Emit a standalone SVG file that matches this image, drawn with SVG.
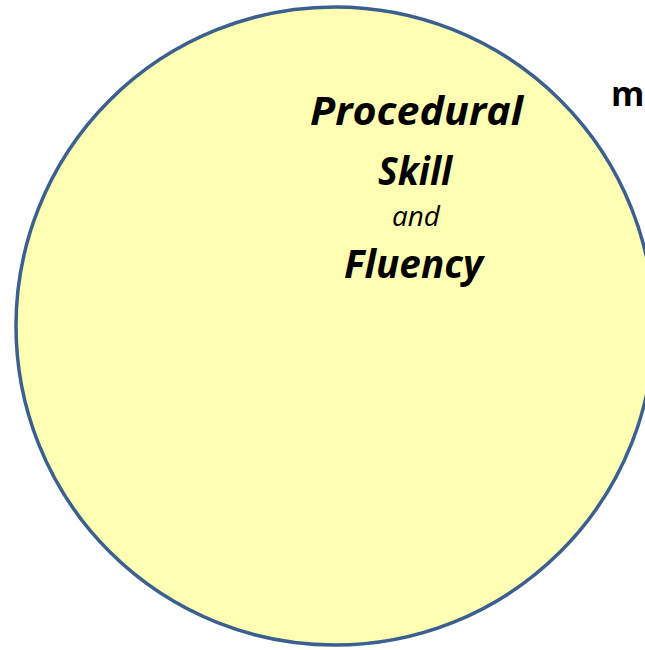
<svg xmlns="http://www.w3.org/2000/svg" width="645" height="650" viewBox="0 0 645 650">
  <style>
    .t { font-family: "Open Sans", "Liberation Sans", sans-serif; fill: #000; text-anchor: middle; }
    .big { font-size: 39px; font-weight: bold; font-style: italic; }
    .small { font-size: 27px; font-style: italic; }
  </style>
  <rect width="645" height="650" fill="#ffffff"/>
  <g id="node-procedural">
    <circle cx="335" cy="326" r="319" fill="#ffffb3" stroke="#3b5f8f" stroke-width="3.5"/>
    <text class="t big" x="416.5" y="125" textLength="213" lengthAdjust="spacingAndGlyphs">Procedural</text>
    <text class="t big" x="415" y="185" textLength="74" lengthAdjust="spacingAndGlyphs">Skill</text>
    <text class="t small" x="416" y="226" textLength="48" lengthAdjust="spacingAndGlyphs">and</text>
    <text class="t big" x="413.5" y="278" textLength="139" lengthAdjust="spacingAndGlyphs">Fluency</text>
  </g>
  <g id="node-m">
    <text x="611" y="106" font-family="Open Sans, Liberation Sans, sans-serif" font-size="34" font-weight="bold" fill="#000">m</text>
  </g>
  <g id="connectors"></g>
</svg>
